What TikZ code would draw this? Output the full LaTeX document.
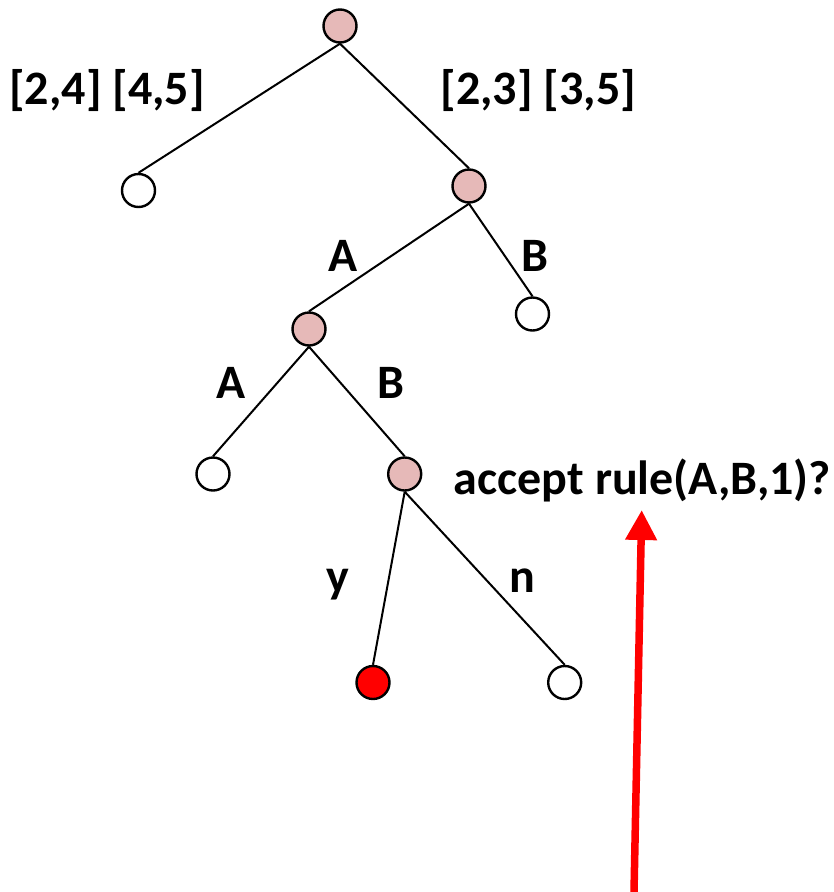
\documentclass[tikz,border=0pt]{standalone}
\usepackage{fontspec}
\setmainfont{Carlito}
\usetikzlibrary{arrows.meta}
\definecolor{pinkfill}{HTML}{E6B9B8}
\begin{document}
\begin{tikzpicture}[x=1pt,y=-1pt,
  vtx/.style={circle,draw=black,line width=2.4pt,minimum size=33pt,inner sep=0pt},
  inner/.style={vtx,fill=pinkfill},
  leaf/.style={vtx,fill=white},
  hit/.style={vtx,fill=red},
  edge/.style={draw=black,line width=2pt},
  lbl/.style={font=\fontsize{48}{54}\selectfont\bfseries,anchor=base,inner sep=0pt}]
\useasboundingbox (0,0) rectangle (834,892);
\node[inner] (r) at (340,26) {};
\node[leaf] (l1) at (138.5,190.5) {};
\node[inner] (r1) at (469,186) {};
\node[leaf] (rb) at (532.5,314) {};
\node[inner] (a) at (309,329) {};
\node[leaf] (aa) at (213,474) {};
\node[inner] (ab) at (404.7,474) {};
\node[hit] (y) at (373,682.5) {};
\node[leaf] (n) at (564.7,682.5) {};
\draw[edge] (r.south) -- (l1.north);
\draw[edge] (r.south) -- (r1.north);
\draw[edge] (r1.south) -- (a.north);
\draw[edge] (r1.south) -- (rb.north);
\draw[edge] (a.south) -- (aa.north);
\draw[edge] (a.south) -- (ab.north);
\draw[edge] (ab.south) -- (y.north);
\draw[edge] (ab.south) -- (n.north);
\node[lbl] (t1) at (107,104) {[2,4] [4,5]};
\node[lbl] (t2) at (538.3,104) {[2,3] [3,5]};
\node[lbl] (tA1) at (343,271) {A};
\node[lbl] (tB1) at (535,271) {B};
\node[lbl] (tA2) at (231,398) {A};
\node[lbl] (tB2) at (391,398) {B};
\node[lbl] (ty) at (338,592) {y};
\node[lbl] (tn) at (522,592) {n};
\node[lbl] (acc) at (642.5,494) {accept rule(A,B,1)?};
\coordinate (tail) at (634,892);
\coordinate (tip) at (641.7,510);
\draw[red,line width=7.5pt,-{Triangle[length=30pt,width=30pt]}] (tail) -- (tip);
\end{tikzpicture}
\end{document}
